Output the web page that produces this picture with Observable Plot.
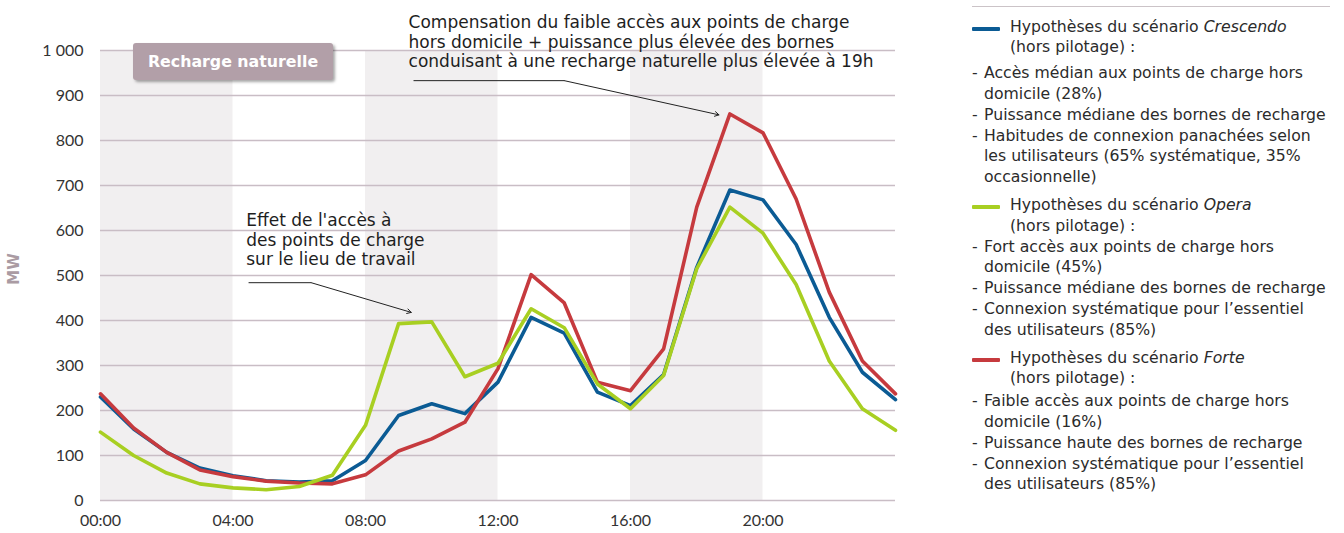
<!DOCTYPE html>
<html><head><meta charset="utf-8">
<script src="https://cdn.jsdelivr.net/npm/d3@7"></script>
<script src="https://cdn.jsdelivr.net/npm/@observablehq/plot@0.6"></script>
<style>
body{margin:0;background:#fff;}
#wrap{position:relative;width:1344px;height:533px;overflow:hidden;font-family:"DejaVu Sans",sans-serif;}
#chart{position:absolute;left:0;top:0;}
#badge{position:absolute;left:133px;top:43px;width:200px;height:37px;background:#b29fa8;border-radius:3px;box-shadow:2px 2px 3px rgba(0,0,0,0.35);color:#fff;font-family:"DejaVu Sans",sans-serif;font-weight:bold;font-size:15.8px;display:flex;align-items:center;justify-content:center;}
#mw{position:absolute;left:14px;top:269px;transform:translate(-50%,-50%) rotate(-90deg);font-family:"DejaVu Sans",sans-serif;font-weight:bold;font-size:15px;color:#aa9ba3;white-space:nowrap;}
#legend{position:absolute;left:972px;top:6px;width:358px;border-top:1px solid #cbc3c7;font-size:15.7px;line-height:20.8px;color:#2b2b2b;padding-top:9.6px;}
.grp{margin-bottom:7px;}
.head{position:relative;padding-left:38px;white-space:nowrap;}
.sw{position:absolute;left:0;top:10px;width:28px;height:4px;border-radius:1px;}
.it{display:flex;white-space:nowrap;}
.it .d{width:12px;flex:none;}
</style></head>
<body>
<div id="wrap">
  <div id="chart"></div>
  <div id="badge">Recharge naturelle</div>
  <div id="mw">MW</div>
  <div id="legend"></div>
</div>
<script>
// ---- data ----
const hours = [0,1,2,3,4,5,6,7,8,9,10,11,12,13,14,15,16,17,18,19,20,21,22,23,24];
const crescendo = [230,159,107,72,55,44,41,44,89,189,215,193,263,407,372,241,211,280,518,690,668,569,407,285,224];
const forte     = [237,161,107,68,53,43,39,37,57,110,137,174,293,502,439,263,244,337,652,859,817,670,463,310,237];
const opera     = [152,100,61,37,28,24,31,56,167,393,397,275,305,426,384,259,204,278,515,652,594,480,310,204,156];
const seriesNames = ["Crescendo","Forte","Opera"];
const seriesColors = ["#0b5b94","#c63a3e","#a8cf22"];
const yTicks = [0,100,200,300,400,500,600,700,800,900,1000];
const xTicks = [0,4,8,12,16,20];
const bandStarts = [0,8,16];
const bandEnds = [4,12,20];
const noteX = [4.40, 9.30];
const noteY = [642, 1082];
const noteText = [
  "Effet de l'accès à\ndes points de charge\nsur le lieu de travail",
  "Compensation du faible accès aux points de charge\nhors domicile + puissance plus élevée des bornes\nconduisant à une recharge naturelle plus élevée à 19h"
];
// leader lines: horizontal part then arrow
const legX1 = [4.47, 9.45], legY1 = [484, 933], legX2 = [6.36, 14.0], legY2 = [484, 933];
const tipX = [9.38, 18.67], tipY = [418, 857];

const legendHeads = ["Crescendo","Opera","Forte"];
const legendColors = ["#0b5b94","#a8cf22","#c63a3e"];
const legendLines = [
  [["Accès médian aux points de charge hors","domicile (28%)"],["Puissance médiane des bornes de recharge"],["Habitudes de connexion panachées selon","les utilisateurs (65% systématique, 35%","occasionnelle)"]],
  [["Fort accès aux points de charge hors","domicile (45%)"],["Puissance médiane des bornes de recharge"],["Connexion systématique pour l’essentiel","des utilisateurs (85%)"]],
  [["Faible accès aux points de charge hors","domicile (16%)"],["Puissance haute des bornes de recharge"],["Connexion systématique pour l’essentiel","des utilisateurs (85%)"]]
];
const headGaps = [5, 0, 2]; // px spacing below each legend heading

// ---- tables built from arrays ----
const seriesVals = [crescendo, forte, opera];
const rows = [];
seriesNames.forEach((s, i) => hours.forEach((h, j) => rows.push({series: s, hour: h, value: seriesVals[i][j]})));
const bands = bandStarts.map((s, i) => ({start: s, end: bandEnds[i]}));
const notes = noteText.map((t, i) => ({x: noteX[i], y: noteY[i], text: t}));
const leaders = legX1.map((x, i) => ({x1: x, y1: legY1[i], x2: legX2[i], y2: legY2[i], x3: tipX[i], y3: tipY[i]}));

const fmt = d3.formatLocale({decimal: ",", thousands: "\u00a0", grouping: [3], currency: ["", "€"]}).format(",");

const plot = Plot.plot({
  width: 950, height: 533,
  marginLeft: 100, marginRight: 55, marginTop: 50, marginBottom: 33,
  x: {domain: [0, 24]},
  y: {domain: [0, 1000]},
  color: {domain: seriesNames, range: seriesColors},
  style: {fontFamily: "Lato, sans-serif", fontSize: "16px", color: "#333", background: "transparent", overflow: "visible"},
  marks: [
    Plot.rect(bands, {x1: "start", x2: "end", y1: 0, y2: 1000, fill: "#f1eff0"}),
    Plot.ruleY(yTicks, {stroke: "#c9bdc5", strokeWidth: 1.5}),
    Plot.axisY({ticks: yTicks, tickSize: 0, tickPadding: 17, tickFormat: fmt, label: null}),
    Plot.axisX({ticks: xTicks, tickSize: 0, tickPadding: 14, tickFormat: h => String(h).padStart(2, "0") + ":00", label: null}),
    Plot.line(rows, {x: "hour", y: "value", stroke: "series", strokeWidth: 3.6}),
    Plot.link(leaders, {x1: "x1", y1: "y1", x2: "x2", y2: "y2", stroke: "#222", strokeWidth: 1}),
    Plot.arrow(leaders, {x1: "x2", y1: "y2", x2: "x3", y2: "y3", stroke: "#222", strokeWidth: 1, headLength: 7}),
    Plot.text(notes, {x: "x", y: "y", text: "text", textAnchor: "start", lineAnchor: "top", fontFamily: "DejaVu Sans, sans-serif", fontSize: 17, lineHeight: 1.17, fill: "#1e1e1e"})
  ]
});
document.getElementById("chart").appendChild(plot);

// ---- legend ----
const leg = document.getElementById("legend");
legendHeads.forEach((name, i) => {
  const g = document.createElement("div"); g.className = "grp";
  const h = document.createElement("div"); h.className = "head";
  h.style.marginBottom = headGaps[i] + "px";
  h.innerHTML = `<span class="sw" style="background:${legendColors[i]}"></span>Hypothèses du scénario <i>${name}</i><br>(hors pilotage) :`;
  g.appendChild(h);
  legendLines[i].forEach(lines => {
    lines.forEach((l, k) => {
      const it = document.createElement("div"); it.className = "it";
      it.innerHTML = `<span class="d">${k === 0 ? "-" : ""}</span><span>${l}</span>`;
      g.appendChild(it);
    });
  });
  leg.appendChild(g);
});
</script>
</body></html>
